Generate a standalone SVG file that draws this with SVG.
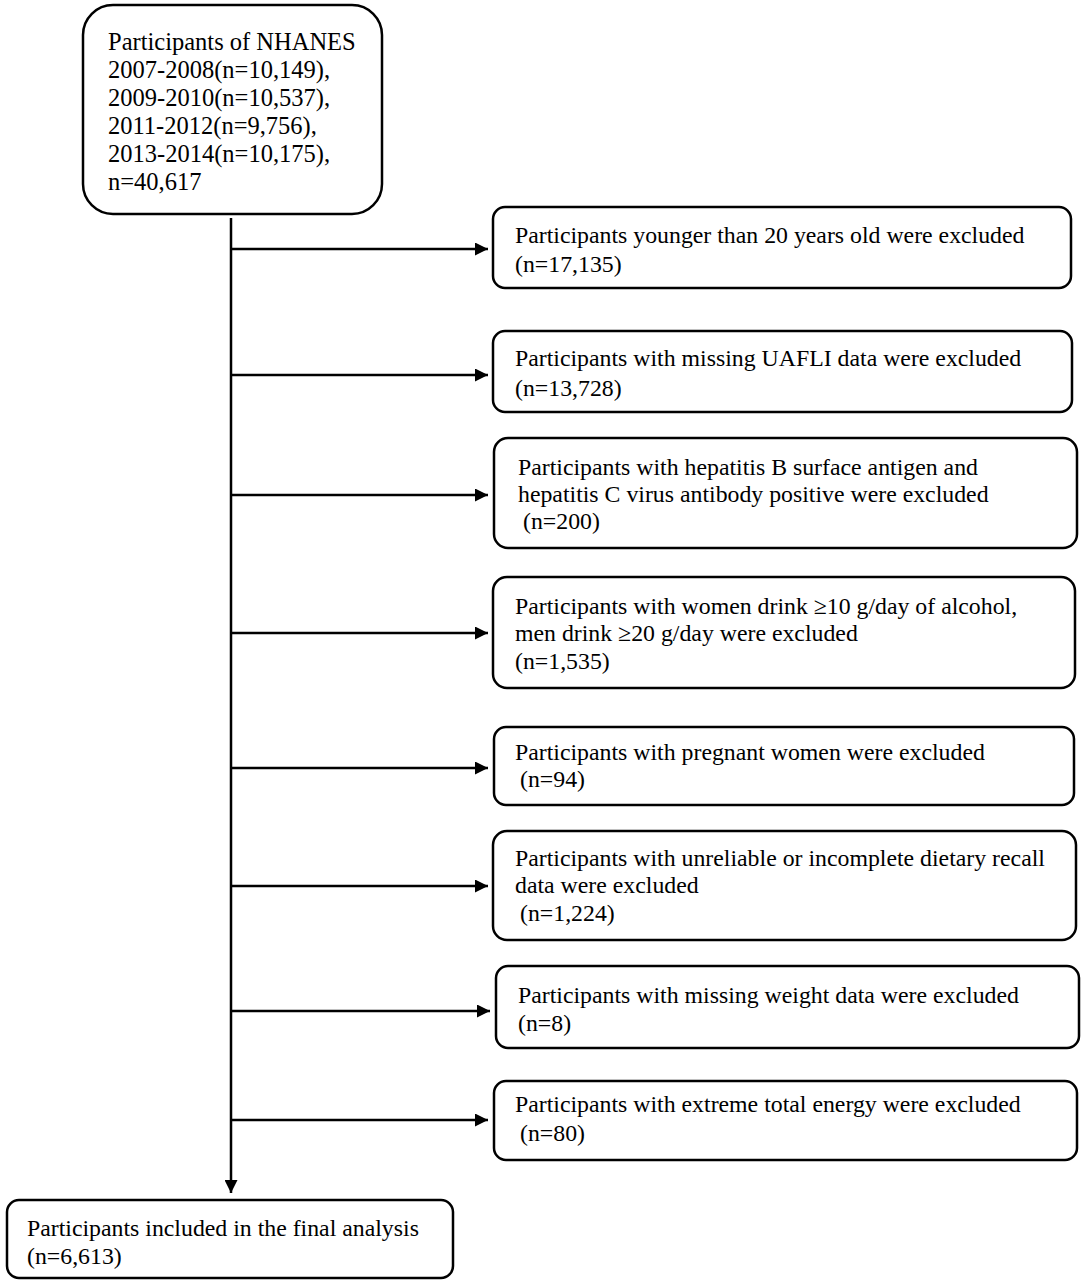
<svg xmlns="http://www.w3.org/2000/svg" width="1084" height="1284" viewBox="0 0 1084 1284">
<style>
.box{fill:#fff;stroke:#000;stroke-width:2.5}
.t{font-family:"Liberation Serif","Times New Roman",serif;font-size:23.8px;fill:#000}
.tt{font-size:24.5px}
.ln{stroke:#000;stroke-width:2.5;fill:none}
</style>
<defs>
<marker id="ah" viewBox="0 0 10 10" refX="10" refY="5" markerWidth="5.6" markerHeight="5.2" markerUnits="strokeWidth" orient="auto">
<path d="M0,0 L10,5 L0,10 z" fill="#000"/>
</marker>
</defs>
<rect width="1084" height="1284" fill="#fff"/>
<g id="connectors">
<line class="ln" x1="231" y1="218" x2="231" y2="1193" marker-end="url(#ah)"/>
<line class="ln" x1="231" y1="249" x2="488" y2="249" marker-end="url(#ah)"/>
<line class="ln" x1="231" y1="375" x2="488" y2="375" marker-end="url(#ah)"/>
<line class="ln" x1="231" y1="495" x2="488" y2="495" marker-end="url(#ah)"/>
<line class="ln" x1="231" y1="633" x2="488" y2="633" marker-end="url(#ah)"/>
<line class="ln" x1="231" y1="768" x2="488" y2="768" marker-end="url(#ah)"/>
<line class="ln" x1="231" y1="886" x2="488" y2="886" marker-end="url(#ah)"/>
<line class="ln" x1="231" y1="1011" x2="490" y2="1011" marker-end="url(#ah)"/>
<line class="ln" x1="231" y1="1120" x2="488" y2="1120" marker-end="url(#ah)"/>
</g>
<g id="start">
<rect class="box" x="83" y="5" width="299" height="209" rx="30"/>
<text class="t tt"><tspan x="108" y="50">Participants of NHANES</tspan><tspan x="108" y="78">2007-2008(n=10,149),</tspan><tspan x="108" y="106">2009-2010(n=10,537),</tspan><tspan x="108" y="134">2011-2012(n=9,756),</tspan><tspan x="108" y="162">2013-2014(n=10,175),</tspan><tspan x="108" y="190">n=40,617</tspan></text>
</g>
<g id="ex1">
<rect class="box" x="493" y="207" width="578" height="81" rx="12"/>
<text class="t"><tspan x="515" y="243">Participants younger than 20 years old were excluded</tspan><tspan x="515" y="272">(n=17,135)</tspan></text>
</g>
<g id="ex2">
<rect class="box" x="493" y="331" width="579" height="81" rx="12"/>
<text class="t"><tspan x="515" y="366">Participants with missing UAFLI data were excluded</tspan><tspan x="515" y="396">(n=13,728)</tspan></text>
</g>
<g id="ex3">
<rect class="box" x="494" y="438" width="583" height="110" rx="14"/>
<text class="t"><tspan x="518" y="475">Participants with hepatitis B surface antigen and</tspan><tspan x="518" y="502">hepatitis C virus antibody positive were excluded</tspan><tspan x="523" y="529">(n=200)</tspan></text>
</g>
<g id="ex4">
<rect class="box" x="493" y="577" width="582" height="111" rx="14"/>
<text class="t"><tspan x="515" y="614">Participants with women drink ≥10 g/day of alcohol,</tspan><tspan x="515" y="641">men drink ≥20 g/day were excluded</tspan><tspan x="515" y="669">(n=1,535)</tspan></text>
</g>
<g id="ex5">
<rect class="box" x="494" y="727" width="580" height="78" rx="12"/>
<text class="t"><tspan x="515" y="760">Participants with pregnant women were excluded</tspan><tspan x="520" y="787">(n=94)</tspan></text>
</g>
<g id="ex6">
<rect class="box" x="493" y="831" width="583" height="109" rx="14"/>
<text class="t"><tspan x="515" y="866">Participants with unreliable or incomplete dietary recall</tspan><tspan x="515" y="893">data were excluded</tspan><tspan x="520" y="921">(n=1,224)</tspan></text>
</g>
<g id="ex7">
<rect class="box" x="496" y="966" width="583" height="82" rx="12"/>
<text class="t"><tspan x="518" y="1003">Participants with missing weight data were excluded</tspan><tspan x="518" y="1031">(n=8)</tspan></text>
</g>
<g id="ex8">
<rect class="box" x="494" y="1081" width="583" height="79" rx="12"/>
<text class="t"><tspan x="515" y="1112">Participants with extreme total energy were excluded</tspan><tspan x="520" y="1141">(n=80)</tspan></text>
</g>
<g id="final">
<rect class="box" x="7" y="1200" width="446" height="78" rx="12"/>
<text class="t"><tspan x="27" y="1236">Participants included in the final analysis</tspan><tspan x="27" y="1264">(n=6,613)</tspan></text>
</g>
</svg>
